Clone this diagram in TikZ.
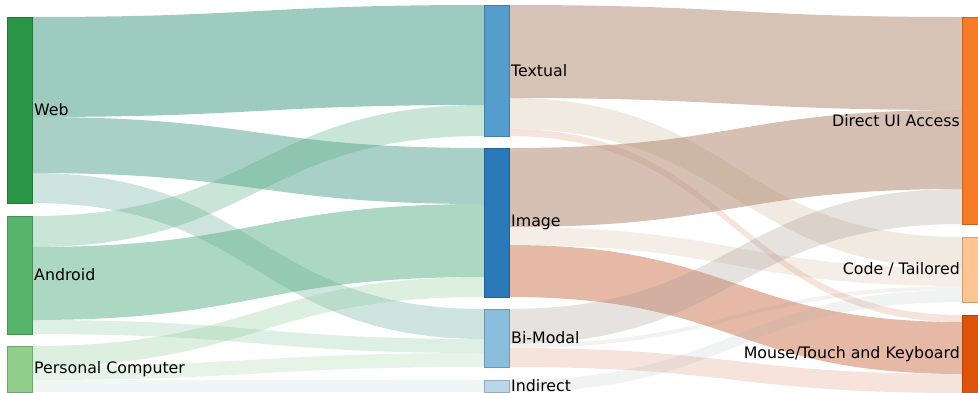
\documentclass[tikz,border=0pt]{standalone}
\usepackage{fontspec}
\setmainfont{DejaVu Sans}
\usetikzlibrary{calc}
\pgfdeclarelayer{background}
\pgfsetlayers{background,main}

% node colours
\definecolor{cWeb}{HTML}{2A9447}
\definecolor{cAndroid}{HTML}{57B46A}
\definecolor{cPC}{HTML}{8FCF8B}
\definecolor{cTextual}{HTML}{559DCC}
\definecolor{cImage}{HTML}{2A79B9}
\definecolor{cBimodal}{HTML}{8BBDDC}
\definecolor{cIndirect}{HTML}{BAD6EB}
\definecolor{cDirect}{HTML}{F57B26}
\definecolor{cCode}{HTML}{FDC591}
\definecolor{cMouse}{HTML}{DE530B}
% flow colours (used translucent)
\definecolor{fTeal}{RGB}{61,151,129}
\definecolor{fMint}{RGB}{90,175,135}
\definecolor{fLeaf}{RGB}{130,200,140}
\definecolor{fMist}{RGB}{160,190,190}
\definecolor{fBrown}{RGB}{175,135,110}
\definecolor{fBeige}{RGB}{200,170,130}
\definecolor{fSalmon}{RGB}{205,115,80}
\definecolor{fGrey}{RGB}{160,150,140}
\definecolor{fSlate}{RGB}{160,175,175}

\tikzset{
  skbar/.style={draw=#1!80!black, fill=#1, line width=0.4pt, inner sep=0pt,
    outer sep=0pt, minimum width=25pt, anchor=north west},
  lab/.style={text=black, inner sep=0pt, label distance=2pt,
    font=\fontsize{15.8}{19}\selectfont},
  flow/.style 2 args={fill=#1, fill opacity=#2, draw=none},
}

% band from #1 (offsets #2..#3 below its top) to #4 (offsets #5..#6), style #7
\newcommand\sklink[7]{%
  \path[#7] let \p1=(#1.north east), \p2=(#4.north west),
      \n1={0.5*(\x1+\x2)} in
    ({\x1},{\y1-#2pt}) .. controls ({\n1*1pt},{\y1-#2pt}) and ({\n1*1pt},{\y2-#5pt}) .. ({\x2},{\y2-#5pt})
    -- ({\x2},{\y2-#6pt}) .. controls ({\n1*1pt},{\y2-#6pt}) and ({\n1*1pt},{\y1-#3pt}) .. ({\x1},{\y1-#3pt})
    -- cycle;}

\begin{document}
\begin{tikzpicture}[x=1pt,y=-1pt]
\useasboundingbox (0,0) rectangle (978,392);
\clip (0,0) rectangle (978,392);

% platforms
\node[skbar=cWeb, minimum height=186pt, label={[lab]east:Web}] (web) at (7,17) {};
\node[skbar=cAndroid, minimum height=118pt, label={[lab]east:Android}] (android) at (7,216) {};
\node[skbar=cPC, minimum height=46pt, label={[lab]east:Personal Computer}] (pc) at (7,346) {};
% input modalities
\node[skbar=cTextual, minimum height=131pt, label={[lab]east:Textual}] (textual) at (484,5) {};
\node[skbar=cImage, minimum height=149pt, label={[lab]east:Image}] (image) at (484,148) {};
\node[skbar=cBimodal, minimum height=58pt, label={[lab]east:Bi-Modal}] (bimodal) at (484,309) {};
\node[skbar=cIndirect, minimum height=12pt, label={[lab]east:Indirect}] (indirect) at (484,380) {};
% action spaces
\node[skbar=cDirect, minimum height=207pt, label={[lab]west:Direct UI Access}] (direct) at (962,17) {};
\node[skbar=cCode, minimum height=65pt, label={[lab]west:Code / Tailored}] (code) at (962,237) {};
\node[skbar=cMouse, minimum height=78pt, label={[lab]west:Mouse/Touch and Keyboard}] (mouse) at (962,315) {};

\begin{pgfonlayer}{background}
% flows: platform -> modality
\sklink{web}{0}{100}{textual}{0}{100}{flow={fTeal}{0.5}}
\sklink{web}{100}{156}{image}{0}{56}{flow={fTeal}{0.45}}
\sklink{web}{156}{186}{bimodal}{0}{30}{flow={fTeal}{0.25}}
\sklink{android}{0}{31}{textual}{100}{131}{flow={fMint}{0.33}}
\sklink{android}{31}{104}{image}{56}{129}{flow={fMint}{0.5}}
\sklink{android}{104}{118}{bimodal}{30}{44}{flow={fMint}{0.2}}
\sklink{pc}{0}{20}{image}{129}{149}{flow={fLeaf}{0.27}}
\sklink{pc}{20}{34}{bimodal}{44}{58}{flow={fLeaf}{0.2}}
\sklink{pc}{34}{46}{indirect}{0}{12}{flow={fMist}{0.15}}
% flows: modality -> action space
\sklink{textual}{0}{93}{direct}{0}{93}{flow={fBrown}{0.5}}
\sklink{textual}{93}{124}{code}{0}{31}{flow={fBeige}{0.25}}
\sklink{textual}{124}{131}{mouse}{0}{7}{flow={fSalmon}{0.2}}
\sklink{image}{0}{79}{direct}{93}{172}{flow={fBrown}{0.52}}
\sklink{image}{79}{97}{code}{31}{49}{flow={fBeige}{0.2}}
\sklink{image}{97}{149}{mouse}{7}{59}{flow={fSalmon}{0.5}}
\sklink{bimodal}{0}{35}{direct}{172}{207}{flow={fGrey}{0.28}}
\sklink{bimodal}{35}{39}{code}{49}{53}{flow={fGrey}{0.12}}
\sklink{bimodal}{39}{58}{mouse}{59}{78}{flow={fSalmon}{0.2}}
\sklink{indirect}{0}{12}{code}{53}{65}{flow={fSlate}{0.15}}
\end{pgfonlayer}
\end{tikzpicture}
\end{document}
